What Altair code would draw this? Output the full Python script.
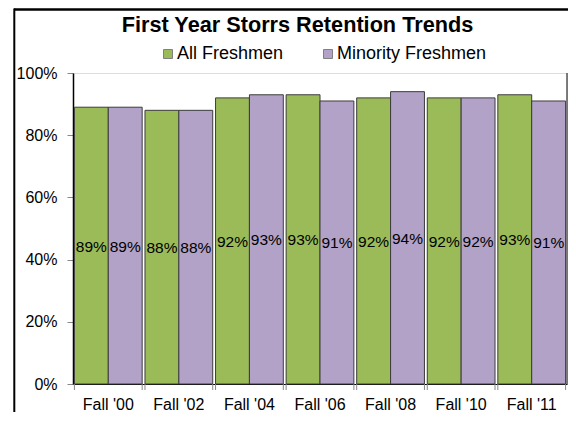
import altair as alt
import pandas as pd

categories = ["Fall '00", "Fall '02", "Fall '04", "Fall '06", "Fall '08", "Fall '10", "Fall '11"]
series = ["All Freshmen", "Minority Freshmen"]
all_freshmen = [89, 88, 92, 93, 92, 92, 93]
minority_freshmen = [89, 88, 93, 91, 94, 92, 91]
y_ticks = [0, 0.2, 0.4, 0.6, 0.8, 1.0]
title_text = "First Year Storrs Retention Trends"

colors = ["#9BBB59", "#B2A2C7"]
FONT = "Liberation Sans"

rows = []
for c, a, m in zip(categories, all_freshmen, minority_freshmen):
    rows.append({"cat": c, "series": series[0], "value": a / 100})
    rows.append({"cat": c, "series": series[1], "value": m / 100})
df = pd.DataFrame(rows)
df["half"] = df["value"] / 2

W, H = 494, 311

x_axis = alt.Axis(
    title=None,
    labelAngle=0,
    ticks=False,
    domainColor="black",
    domainWidth=1,
    labelFontSize=16,
    labelPadding=12,
    labelColor="black",
    labelFont=FONT,
)
x_enc = alt.X(
    "cat:N",
    sort=categories,
    scale=alt.Scale(paddingInner=0.04, paddingOuter=0.02),
    axis=x_axis,
)
xoff_enc = alt.XOffset("series:N", sort=series, scale=alt.Scale(paddingInner=0, paddingOuter=0))

bars = alt.Chart(df).mark_bar(stroke="#3c3c3c", strokeWidth=1).encode(
    x=x_enc,
    xOffset=xoff_enc,
    y=alt.Y(
        "value:Q",
        scale=alt.Scale(domain=[0, 1], nice=False),
        axis=alt.Axis(
            title=None,
            format="%",
            values=y_ticks,
            grid=False,
            tickSize=6,
            tickColor="#888888",
            labelPadding=10,
            domainColor="black",
            domainWidth=1.5,
            labelFontSize=16,
            labelColor="black",
            labelFont=FONT,
        ),
    ),
    color=alt.Color(
        "series:N",
        sort=series,
        scale=alt.Scale(domain=series, range=colors),
        legend=alt.Legend(
            title=None,
            orient="none",
            legendX=86,
            legendY=-28,
            direction="horizontal",
            symbolType="square",
            symbolSize=81,
            symbolStrokeColor="#808080",
            symbolStrokeWidth=1,
            labelFontSize=18,
            labelFont=FONT,
            labelColor="black",
            labelOffset=0,
            columnPadding=35,
            padding=0,
        ),
    ),
)

labels = alt.Chart(df).mark_text(fontSize=15.5, font=FONT, color="black", baseline="middle", dy=1).encode(
    x=alt.X("cat:N", sort=categories, axis=x_axis),
    xOffset=alt.XOffset("series:N", sort=series),
    y=alt.Y("half:Q"),
    text=alt.Text("value:Q", format=".0%"),
)

cat_df = pd.DataFrame({"cat": categories})
ticks_left = alt.Chart(cat_df).mark_rule(color="#888888", strokeWidth=1).encode(
    x=alt.X("cat:N", sort=categories, bandPosition=0, axis=x_axis),
    y=alt.value(H),
    y2=alt.value(H + 6),
)
ticks_right = alt.Chart(cat_df).mark_rule(color="#888888", strokeWidth=1).encode(
    x=alt.X("cat:N", sort=categories, bandPosition=1, axis=x_axis),
    y=alt.value(H),
    y2=alt.value(H + 6),
)

one = pd.DataFrame({"t": [title_text]})
title = alt.Chart(one).mark_text(
    fontSize=21.7, fontWeight="bold", font=FONT, color="black", baseline="alphabetic", align="center"
).encode(x=alt.value(224.5), y=alt.value(-41.3), text="t:N")

border_top = alt.Chart(one).mark_rule(color="black", strokeWidth=2.5).encode(
    x=alt.value(-59), x2=alt.value(510), y=alt.value(-63.5)
)
border_left = alt.Chart(one).mark_rule(color="black", strokeWidth=2).encode(
    x=alt.value(-58.7), y=alt.value(-64.5), y2=alt.value(345)
)
plot_right = alt.Chart(one).mark_rule(color="#555555", strokeWidth=1.5).encode(
    x=alt.value(W), y=alt.value(0), y2=alt.value(H)
)

chart = (
    alt.layer(bars, labels, ticks_left, ticks_right, plot_right, title, border_top, border_left)
    .properties(
        width=W,
        height=H,
        autosize=alt.AutoSizeParams(type="none"),
        padding={"left": 65, "top": 65, "right": 1, "bottom": 28},
    )
    .configure_view(stroke="#A0A0A0", strokeWidth=1)
    .configure(font=FONT, background="white")
)

chart.save("out.html", embed_options={"renderer": "svg", "actions": False})
